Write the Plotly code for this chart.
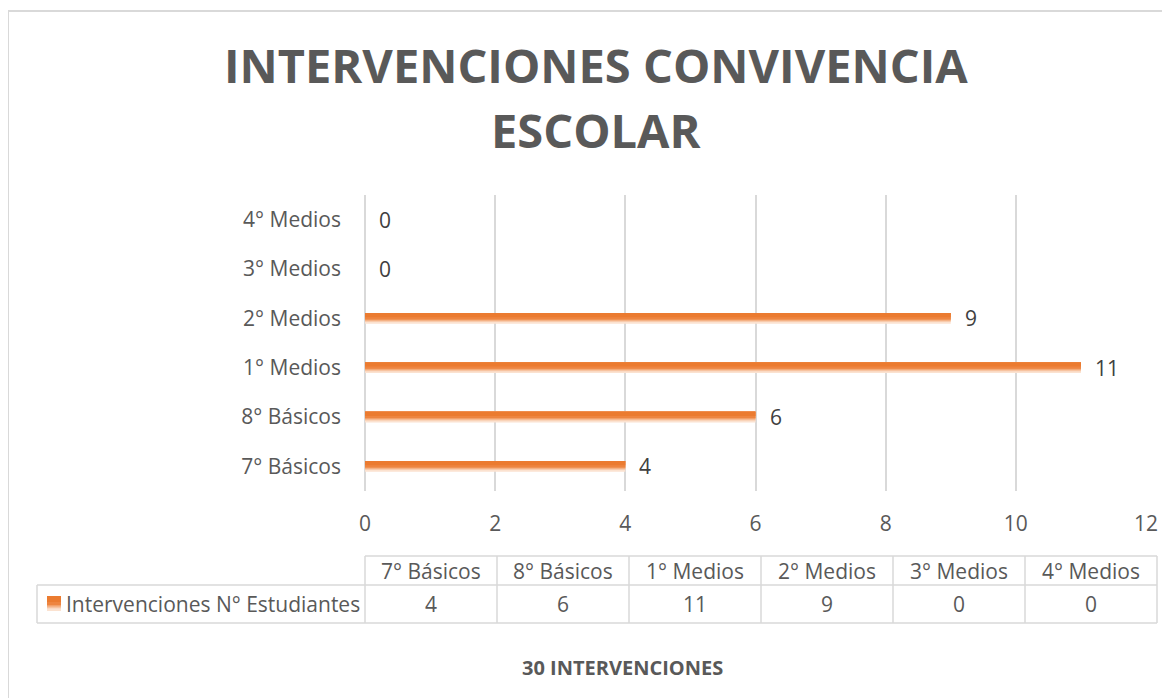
import plotly.graph_objects as go

# ---- data ----
categories = ["7° Básicos", "8° Básicos", "1° Medios", "2° Medios", "3° Medios", "4° Medios"]
values = [4, 6, 11, 9, 0, 0]
series_name = "Intervenciones N° Estudiantes"
title_lines = ["INTERVENCIONES CONVIVENCIA", "ESCOLAR"]
footer_text = "30 INTERVENCIONES"
x_ticks = [0, 2, 4, 6, 8, 10, 12]

# ---- layout geometry (page pixels; the page body adds an 8px margin) ----
OFF = 8
W, H = 1170 - OFF, 698 - OFF
PL, PR, PT, PB = 365, 1146, 195, 491  # plot area in page pixels

def px(x):
    return (x - PL) / (PR - PL)

def py(y):
    return (PB - y) / (PB - PT)

FONT = "Open Sans"
GREY = "#595959"
LINE = "#D9D9D9"

fig = go.Figure()

# gradient bars: overlapping layers, light full band first, darker top portions after
layer_colors = ["#FBE2D0", "#F7C3A0", "#F2A069", "#EE8540", "#EB7B30"]
layer_frac = [1.0, 0.82, 0.7, 0.6, 0.4]
band = 0.22
for c, f in zip(layer_colors, layer_frac):
    fig.add_trace(go.Bar(
        y=categories, x=values, orientation="h",
        marker=dict(color=c, line=dict(width=0)),
        width=band * f, offset=band / 2 - band * f,
        showlegend=False, hoverinfo="skip",
    ))

# data labels
for c, v in zip(categories, values):
    fig.add_annotation(x=v, y=c, xref="x", yref="y", text=str(v),
                       showarrow=False, xanchor="left", xshift=12,
                       font=dict(family=FONT, size=21, color="#404040"))

shapes = []
annotations = []

# outer chart border
shapes.append(dict(type="rect", xref="paper", yref="paper",
                   x0=px(8), x1=px(1185), y0=py(11), y1=py(720),
                   line=dict(color=LINE, width=2), fillcolor="rgba(0,0,0,0)", layer="below"))

# data table
col_edges = [365 + 132 * k for k in range(len(categories) + 1)]
h_top, h_mid, h_bot = 556, 585, 623
leg_left = 37
lw = 1.5
shapes.append(dict(type="line", xref="paper", yref="paper", x0=px(col_edges[0]), x1=px(col_edges[-1]),
                   y0=py(h_top), y1=py(h_top), line=dict(color=LINE, width=lw)))
for hy in (h_mid, h_bot):
    shapes.append(dict(type="line", xref="paper", yref="paper", x0=px(leg_left), x1=px(col_edges[-1]),
                       y0=py(hy), y1=py(hy), line=dict(color=LINE, width=lw)))
for e in col_edges:
    shapes.append(dict(type="line", xref="paper", yref="paper", x0=px(e), x1=px(e),
                       y0=py(h_top), y1=py(h_bot), line=dict(color=LINE, width=lw)))
shapes.append(dict(type="line", xref="paper", yref="paper", x0=px(leg_left), x1=px(leg_left),
                   y0=py(h_mid), y1=py(h_bot), line=dict(color=LINE, width=lw)))

for k, (c, v) in enumerate(zip(categories, values)):
    cx = (col_edges[k] + col_edges[k + 1]) / 2
    annotations.append(dict(x=px(cx), y=py((h_top + h_mid) / 2), xref="paper", yref="paper",
                            text=c, showarrow=False, xanchor="center", yanchor="middle",
                            font=dict(family=FONT, size=21, color=GREY)))
    annotations.append(dict(x=px(cx), y=py((h_mid + h_bot) / 2), xref="paper", yref="paper",
                            text=str(v), showarrow=False, xanchor="center", yanchor="middle",
                            font=dict(family=FONT, size=21, color=GREY)))

# legend key (gradient square)
key_x0, key_x1, key_y0, key_y1 = 47, 61, 596, 611
kh = key_y1 - key_y0
for c, f in zip(layer_colors, layer_frac):
    shapes.append(dict(type="rect", xref="paper", yref="paper",
                       x0=px(key_x0), x1=px(key_x1),
                       y0=py(key_y0), y1=py(key_y0 + kh * f),
                       line=dict(width=0), fillcolor=c))
annotations.append(dict(x=px(64), y=py((h_mid + h_bot) / 2), xref="paper", yref="paper",
                        text=series_name, showarrow=False, xanchor="left", yanchor="middle",
                        font=dict(family=FONT, size=21, color=GREY)))

# title (two lines)
for line_text, ly in zip(title_lines, (65, 130)):
    annotations.append(dict(x=px(596), y=py(ly), xref="paper", yref="paper",
                            text="<b>" + line_text + "</b>", showarrow=False,
                            xanchor="center", yanchor="middle",
                            font=dict(family=FONT, size=47, color=GREY)))

# footer
annotations.append(dict(x=px(622), y=py(667), xref="paper", yref="paper",
                        text="<b>" + footer_text + "</b>", showarrow=False,
                        xanchor="center", yanchor="middle",
                        font=dict(family=FONT, size=20, color=GREY)))

fig.update_layout(
    width=W, height=H,
    margin=dict(l=PL - OFF, r=W - (PR - OFF), t=PT - OFF, b=H - (PB - OFF), pad=0),
    paper_bgcolor="white", plot_bgcolor="white",
    barmode="overlay",
    showlegend=False,
    xaxis=dict(range=[0, 12], tickvals=x_ticks, showgrid=True, gridcolor=LINE, gridwidth=1.5,
               zeroline=True, zerolinecolor=LINE, zerolinewidth=2,
               showline=False, ticks="", ticklabelstandoff=18,
               tickfont=dict(family=FONT, size=21, color=GREY), fixedrange=True),
    yaxis=dict(categoryorder="array", categoryarray=categories, showgrid=False,
               showline=False, zeroline=False, ticks="", ticklabelstandoff=23,
               tickfont=dict(family=FONT, size=21, color=GREY), fixedrange=True),
    shapes=shapes,
)
for a in annotations:
    fig.add_annotation(**a)

fig.write_html("out.html")
